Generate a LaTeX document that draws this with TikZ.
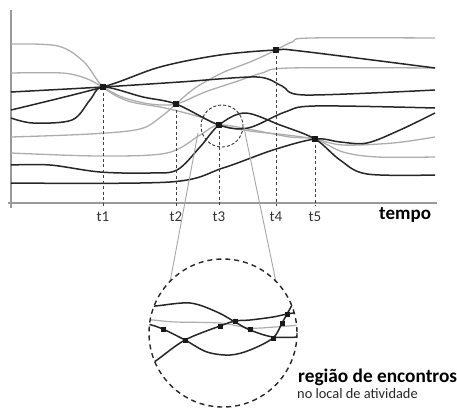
\documentclass[tikz,border=0pt]{standalone}
\usepackage{fontspec}
\setmainfont{Carlito}
\begin{document}
\begin{tikzpicture}[x=1pt,y=-1pt,
  blk/.style={draw=black!85, line width=1.5pt},
  gry/.style={draw=black!32, line width=1.3pt},
  axisline/.style={draw=black!40, line width=1.4pt},
  vdash/.style={draw=black!75, line width=0.8pt, dash pattern=on 3pt off 2.5pt},
  sqmark/.style={fill=black!90, minimum size=6pt, inner sep=0pt, outer sep=0pt},
  sqsmall/.style={fill=black!90, minimum size=5pt, inner sep=0pt, outer sep=0pt},
  tlabel/.style={text=black!80, font=\fontsize{15}{15}\selectfont, inner sep=0pt, anchor=base},
  zoomline/.style={draw=black!35, line width=0.9pt}
]
\useasboundingbox (0,0) rectangle (457,407);

% axes
\draw[axisline] (11,10) -- (11,208);
\draw[axisline] (8,203) -- (437,203);

% key coordinates
\coordinate (c1) at (103,87);
\coordinate (c2) at (176,104);
\coordinate (c3) at (219,125);
\coordinate (c4) at (276,50);
\coordinate (c5) at (315,139);

% gray curves
\draw[gry] plot[smooth, tension=0.55] coordinates {(11,44) (58,46) (84,62) (c1) (128,101) (165,108) (200,117) (c3) (250,131) (287,135) (c5) (343,145) (393,143) (435,137)};
\draw[gry] plot[smooth, tension=0.55] coordinates {(11,73) (62,73) (85,78) (c1) (122,97) (150,104) (c2) (205,92) (235,82) (262,73) (290,68) (435,68)};
\draw[gry] plot[smooth, tension=0.55] coordinates {(11,137) (90,134) (140,129) (162,116) (c2) (195,88) (222,73) (250,62) (270,53) (292,42) (310,38) (435,38)};
\draw[gry] plot[smooth, tension=0.55] coordinates {(11,153) (100,156) (167,153) (200,135) (c3) (253,130) (290,137) (c5) (343,152) (377,157) (435,157)};

% black curves
\draw[blk] plot[smooth, tension=0.5] coordinates {(11,92) (c1) (180,82) (257,77) (282,86) (305,95) (435,90)};
\draw[blk] plot[smooth, tension=0.55] coordinates {(11,110) (c1) (160,67) (220,55) (c4) (300,51) (435,68)};
\draw[blk] plot[smooth, tension=0.55] coordinates {(11,118) (33,123) (72,120) (90,100) (c1) (143,97) (c2) (c3) (248,128) (285,112) (315,106) (435,108)};
\draw[blk] plot[smooth, tension=0.55] coordinates {(11,165) (50,165) (100,172) (150,173) (177,170) (200,147) (c3) (245,113) (280,125) (c5) (340,160) (367,174) (435,175)};
\draw[blk] plot[smooth, tension=0.55] coordinates {(11,183) (170,182) (223,168) (273,150) (c5) (340,142) (367,143) (400,130) (435,113)};

% dashed verticals
\draw[vdash] (c1) -- (103,206);
\draw[vdash] (c2) -- (176,206);
\draw[vdash] (c3) -- (219,206);
\draw[vdash] (c4) -- (276,206);
\draw[vdash] (c5) -- (315,206);

% squares
\node[sqmark] (s1) at (c1) {};
\node[sqmark] (s2) at (c2) {};
\node[sqmark] (s3) at (c3) {};
\node[sqmark] (s4) at (c4) {};
\node[sqmark] (s5) at (c5) {};

% tick labels
\node[tlabel] (l1) at (103,221) {t1};
\node[tlabel] (l2) at (176,221) {t2};
\node[tlabel] (l3) at (219,221) {t3};
\node[tlabel] (l4) at (276,221) {t4};
\node[tlabel] (l5) at (315,221) {t5};
\node[font=\bfseries\fontsize{19}{19}\selectfont, anchor=base west, inner sep=0pt] (tempo) at (379,219) {tempo};

% small circle and zoom lines
\coordinate (sc) at (222,126);
\coordinate (bc) at (223,333);
\draw[draw=black!80, line width=0.9pt, dash pattern=on 3pt off 2pt] (sc) circle[radius=21];
\draw[zoomline] (198,133) -- (170,282);
\draw[zoomline] (244,128) -- (276,282);

% inset
\begin{scope}
\clip (bc) circle[radius=74];
\draw[draw=black!32, line width=1.2pt] plot[smooth, tension=0.55] coordinates {(140,320) (153,320) (175,322) (220,323) (250,328) (275,327) (300,325)};
\draw[blk] plot[smooth, tension=0.55] coordinates {(140,306) (155,306) (190,303) (217,312) (235,322) (250,330) (273,337) (300,337)};
\draw[blk] plot[smooth, tension=0.55] coordinates {(140,322) (155,326) (163,329) (185,340) (207,352) (230,355) (250,350) (273,338) (282,323) (287,314) (292,305) (295,298)};
\draw[blk] plot[smooth, tension=0.55] coordinates {(145,368) (157,360) (185,340) (220,326) (235,321) (250,320) (273,317) (287,314) (300,312)};
\end{scope}
\foreach \p/\q in {163/329,185/340,220/326,235/321,250/329,273/338,282/323,287/314}
  \node[sqsmall] at (\p,\q) {};
\draw[draw=black!85, line width=1.4pt, dash pattern=on 5pt off 4pt] (bc) circle[radius=74];

% texts
\node[font=\bfseries\fontsize{19.3}{19}\selectfont, anchor=base west, inner sep=0pt] (reg) at (298,382) {região de encontros};
\node[font=\fontsize{14.4}{14}\selectfont, anchor=base west, inner sep=0pt, text=black!85] (loc) at (297,398) {no local de atividade};
\end{tikzpicture}
\end{document}
